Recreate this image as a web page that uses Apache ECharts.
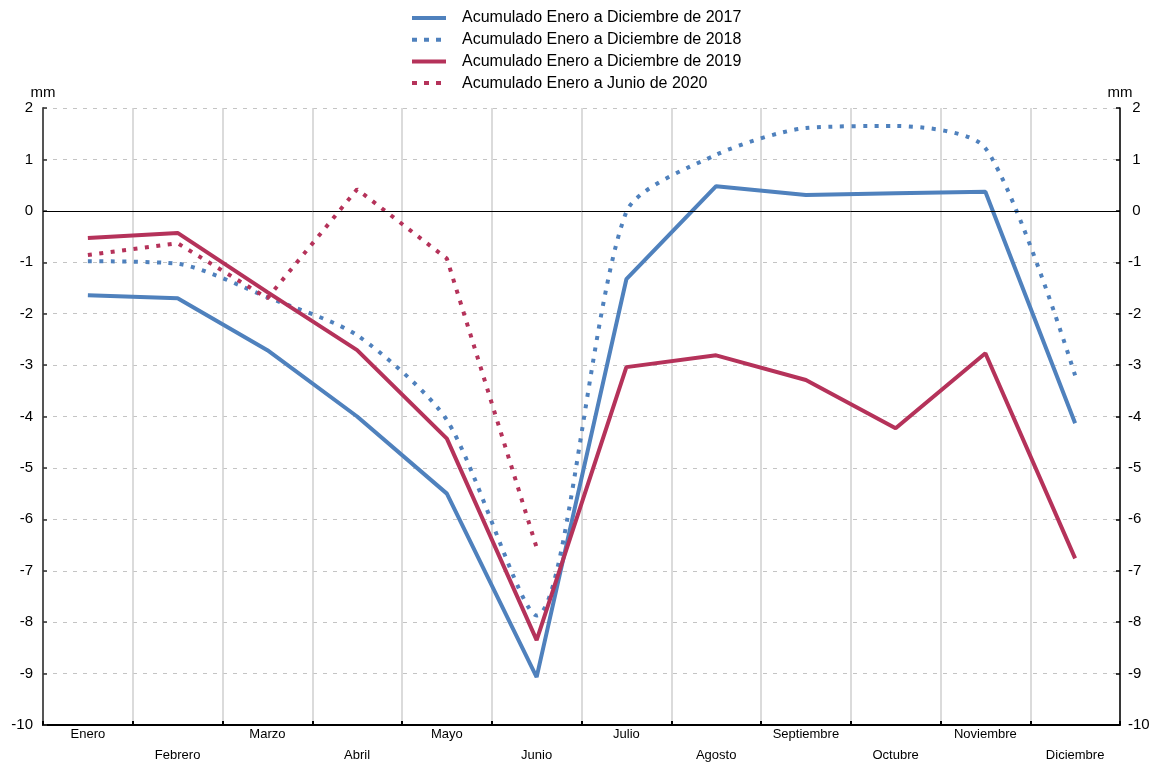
<!DOCTYPE html>
<html>
<head>
<meta charset="utf-8">
<script src="https://cdn.jsdelivr.net/npm/echarts@6/dist/echarts.min.js"></script>
<style>
html,body{margin:0;padding:0;background:#fff;}
#chart{width:1154px;height:762px;}
</style>
</head>
<body>
<div id="chart"></div>
<script>
const months = ['Enero','Febrero','Marzo','Abril','Mayo','Junio','Julio','Agosto','Septiembre','Octubre','Noviembre','Diciembre'];
const s2017 = [-1.64,-1.70,-2.71,-4.00,-5.50,-9.07,-1.33,0.48,0.31,0.34,0.37,-4.13];
const s2018 = [-0.98,-1.03,-1.68,-2.42,-4.07,-7.87,-0.02,1.09,1.61,1.65,1.22,-3.20];
const s2019 = [-0.53,-0.43,-1.58,-2.71,-4.43,-8.35,-3.04,-2.81,-3.29,-4.23,-2.77,-6.76];
const s2020 = [-0.86,-0.63,-1.70,0.42,-0.93,-6.55];
const names = ['Acumulado Enero a Diciembre de 2017','Acumulado Enero a Diciembre de 2018','Acumulado Enero a Diciembre de 2019','Acumulado Enero a Junio de 2020'];
const blue = '#4f81bd', red = '#b5325a';
const FONT = 'Liberation Sans, Arial, sans-serif';

const solidIcon = 'path://M0,0h34v4h-34z';
const dotIcon = 'path://M0,0h5v4h-5z M12,0h5v4h-5z M24,0h5v4h-5z M34,4';

const chart = echarts.init(document.getElementById('chart'), null, {renderer:'canvas'});
const dot = [4,7.5];
chart.setOption({
  animation:false,
  backgroundColor:'#fff',
  textStyle:{fontFamily:FONT},
  legend:{
    orient:'vertical', left:412, top:10, padding:0, itemWidth:34, itemHeight:4, itemGap:5.7,
    textStyle:{fontSize:16,color:'#000',fontFamily:FONT, padding:[0,0,0,11], lineHeight:16},
    data:[
      {name:names[0],icon:solidIcon,itemStyle:{color:blue}},
      {name:names[1],icon:dotIcon,itemStyle:{color:blue}},
      {name:names[2],icon:solidIcon,itemStyle:{color:red}},
      {name:names[3],icon:dotIcon,itemStyle:{color:red}}
    ]
  },
  grid:{left:43,right:34,top:108,bottom:37,containLabel:false,outerBoundsMode:'none'},
  xAxis:{
    type:'category', data:months, boundaryGap:true,
    axisLine:{show:true,onZero:false,lineStyle:{color:'#000',width:2}},
    axisTick:{show:true,inside:true,length:4,interval:0,lineStyle:{color:'#000',width:2}},
    axisLabel:{interval:0,fontSize:13,color:'#000',fontFamily:FONT,margin:-1,lineHeight:21,
      formatter:function(v,i){return i%2 ? '\n'+v : v;}},
    splitLine:{show:true,interval:0,lineStyle:{color:'#cfcfcf',width:1.5}}
  },
  yAxis:[{
    type:'value', min:-10, max:2, interval:1, position:'left',
    name:'mm', nameLocation:'end', nameGap:-1,
    nameTextStyle:{fontSize:15,color:'#000',fontFamily:FONT,align:'center',verticalAlign:'bottom'},
    axisLine:{show:true,lineStyle:{color:'#555',width:2}},
    axisTick:{show:true,inside:true,length:4,lineStyle:{color:'#333',width:1.5}},
    axisLabel:{fontSize:15,color:'#000',fontFamily:FONT,margin:10},
    splitLine:{show:true,lineStyle:{color:'#c4c4c4',width:1,type:[4,6]}}
  },{
    type:'value', min:-10, max:2, interval:1, position:'right',
    name:'mm', nameLocation:'end', nameGap:-1,
    nameTextStyle:{fontSize:15,color:'#000',fontFamily:FONT,align:'center',verticalAlign:'bottom'},
    axisLine:{show:true,lineStyle:{color:'#000',width:1.5}},
    axisTick:{show:true,inside:true,length:4,lineStyle:{color:'#000',width:1.5}},
    axisLabel:{fontSize:15,color:'#000',fontFamily:FONT,margin:8,
      formatter:function(v){return v>=0 ? ' '+v : String(v);}},
    splitLine:{show:false}
  }],
  series:[
    {name:names[0],type:'line',data:s2017,symbol:'none',color:blue,
      lineStyle:{color:blue,width:4},
      markLine:{silent:true,symbol:'none',label:{show:false},animation:false,
        lineStyle:{color:'#000',width:1,type:'solid'},data:[{yAxis:0}]}},
    {name:names[1],type:'line',data:s2018,symbol:'none',color:blue,smooth:0.25,
      lineStyle:{color:blue,width:4,type:dot,cap:'butt'}},
    {name:names[2],type:'line',data:s2019,symbol:'none',color:red,
      lineStyle:{color:red,width:4}},
    {name:names[3],type:'line',data:s2020,symbol:'none',color:red,
      lineStyle:{color:red,width:4,type:dot,cap:'butt'}}
  ]
});
</script>
</body>
</html>
